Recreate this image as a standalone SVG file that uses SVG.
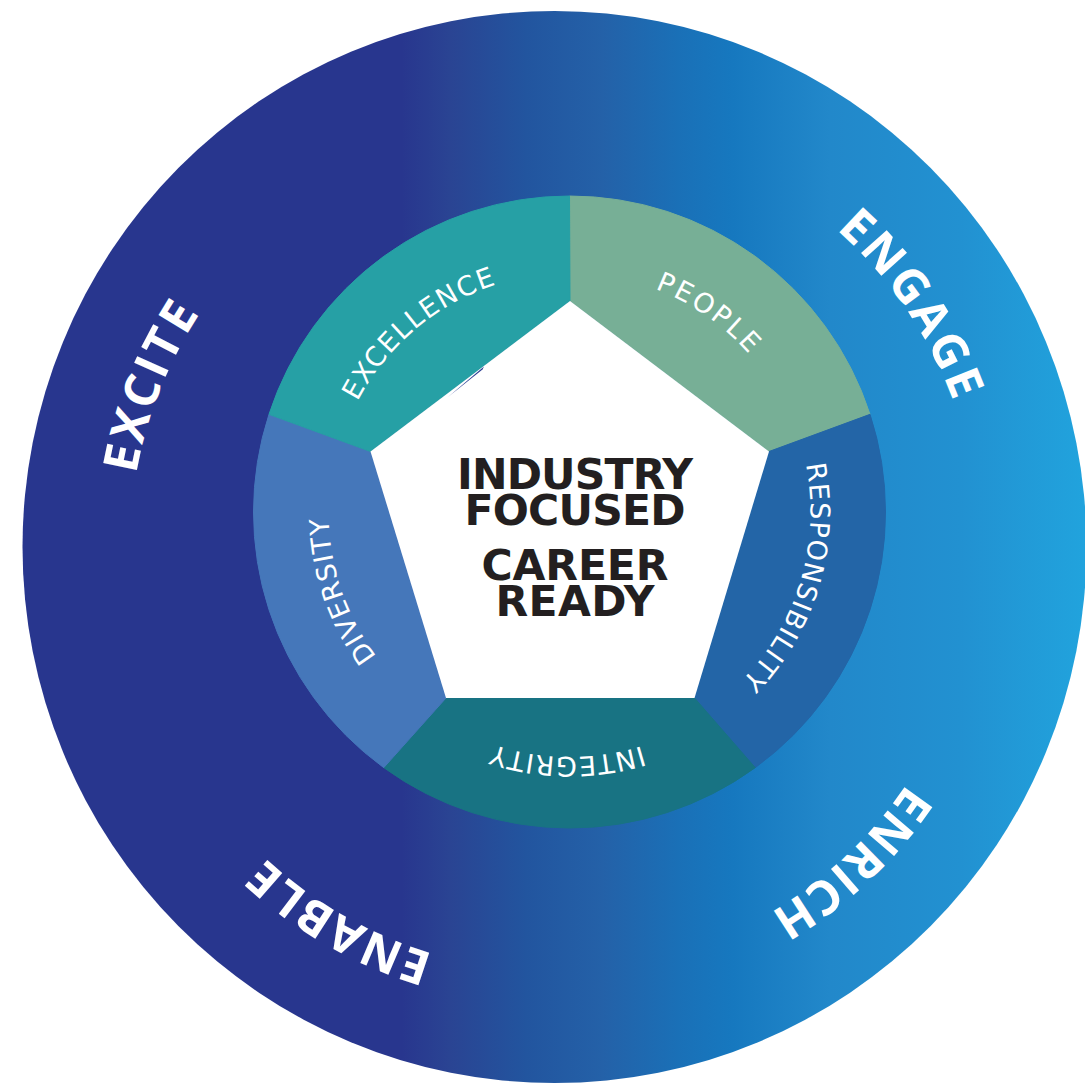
<svg xmlns="http://www.w3.org/2000/svg" width="1085" height="1084" viewBox="0 0 1085 1084">
<style>
.ring{fill:#ffffff;text-anchor:middle}
.outer{font-family:"Open Sans","Liberation Sans",sans-serif;font-size:48px;font-weight:700}
.inner{font-family:"DejaVu Sans","Open Sans",sans-serif;font-size:27px;font-weight:400}
.core{font-family:"DejaVu Sans","Open Sans",sans-serif;font-size:42.5px;font-weight:700;fill:#231F20;text-anchor:middle}
.sector{stroke-width:1;stroke-linejoin:round}
</style>
<defs>
<linearGradient id="ringGrad" gradientUnits="userSpaceOnUse" x1="0" y1="0" x2="1085" y2="0">
<stop offset="0" stop-color="#28368E"/>
<stop offset="0.37" stop-color="#28368E"/>
<stop offset="0.415" stop-color="#2A4493"/>
<stop offset="0.485" stop-color="#22559F"/>
<stop offset="0.555" stop-color="#2461A8"/>
<stop offset="0.625" stop-color="#1A70B7"/>
<stop offset="0.675" stop-color="#1678BF"/>
<stop offset="0.765" stop-color="#2288CA"/>
<stop offset="0.885" stop-color="#2291D1"/>
<stop offset="1" stop-color="#21A3DD"/>
</linearGradient>
<path id="arcOuter" d="M155.6,401.8 A424.5,424.5 0 0 1 953.4,401.8"/>
<path id="arcIn239" d="M344.91,430.26 A239,239 0 0 1 794.09,430.26"/>
<path id="arcIn241" d="M343.03,429.57 A241,241 0 0 1 795.97,429.57"/>
<path id="arcIn245" d="M339.28,428.21 A245,245 0 0 1 799.72,428.21"/>
</defs>
<rect x="0" y="0" width="1085" height="1084" fill="#ffffff"/>

<g id="outer-ring">
<ellipse cx="554.5" cy="547" rx="532" ry="536" fill="url(#ringGrad)"/>
</g>

<g id="excite">
<text class="ring outer" transform="rotate(-68.4 554.5 547)"><textPath href="#arcOuter" startOffset="50%" textLength="174">EXCITE</textPath></text>
</g>
<g id="engage">
<text class="ring outer" transform="rotate(55.75 554.5 547)"><textPath href="#arcOuter" startOffset="50%" textLength="210">ENGAGE</textPath></text>
</g>
<g id="enrich">
<text class="ring outer" transform="rotate(136.7 554.5 547)"><textPath href="#arcOuter" startOffset="50%" textLength="190">ENRICH</textPath></text>
</g>
<g id="enable">
<text class="ring outer" transform="rotate(209.75 554.5 547)"><textPath href="#arcOuter" startOffset="50%" textLength="195">ENABLE</textPath></text>
</g>

<g id="people">
<path class="sector" d="M570,301 L569.5,196 A316,316 0 0 1 870.03,414.35 L769,451.5 Z" fill="#77AF96" stroke="#77AF96"/>
<text class="ring inner" transform="rotate(34.8 569.5 512)"><textPath href="#arcIn239" startOffset="50%" textLength="115.5">PEOPLE</textPath></text>
</g>
<g id="responsibility">
<path class="sector" d="M769,451.5 L870.03,414.35 A316,316 0 0 1 755.24,767.65 L694.5,698 Z" fill="#2365A7" stroke="#2365A7"/>
<text class="ring inner" transform="rotate(106.5 569.5 512)"><textPath href="#arcIn241" startOffset="50%" textLength="235">RESPONSIBILITY</textPath></text>
</g>
<g id="integrity">
<path class="sector" d="M694.5,698 L755.24,767.65 A316,316 0 0 1 383.76,767.65 L446,698 Z" fill="#187383" stroke="#187383"/>
<text class="ring inner" transform="rotate(180.45 569.5 512)"><textPath href="#arcIn245" startOffset="50%" textLength="151">INTEGRITY</textPath></text>
</g>
<g id="diversity">
<path class="sector" d="M446,698 L383.76,767.65 A316,316 0 0 1 268.97,414.35 L370.5,451.5 Z" fill="#4577BA" stroke="#4577BA"/>
<text class="ring inner" transform="rotate(250.8 569.5 512)"><textPath href="#arcIn241" startOffset="50%" textLength="149">DIVERSITY</textPath></text>
</g>
<g id="excellence">
<path class="sector" d="M370.5,451.5 L268.97,414.35 A316,316 0 0 1 569.5,196 L570,301 Z" fill="#26A0A5" stroke="#26A0A5"/>
<text class="ring inner" transform="rotate(-40.2 569.5 512)"><textPath href="#arcIn239" startOffset="50%" textLength="186">EXCELLENCE</textPath></text>
</g>

<g id="core">
<polygon points="570,301 769,451.5 694.5,698 446,698 370.5,451.5" fill="#ffffff"/>
<polygon points="448,397 484,366.5 482.5,369.5" fill="#2B3E93"/>
<text class="core" x="575" y="489" textLength="236">INDUSTRY</text>
<text class="core" x="575" y="525" textLength="221">FOCUSED</text>
<text class="core" x="575" y="580" textLength="187">CAREER</text>
<text class="core" x="575" y="615.5" textLength="159">READY</text>
</g>
</svg>
